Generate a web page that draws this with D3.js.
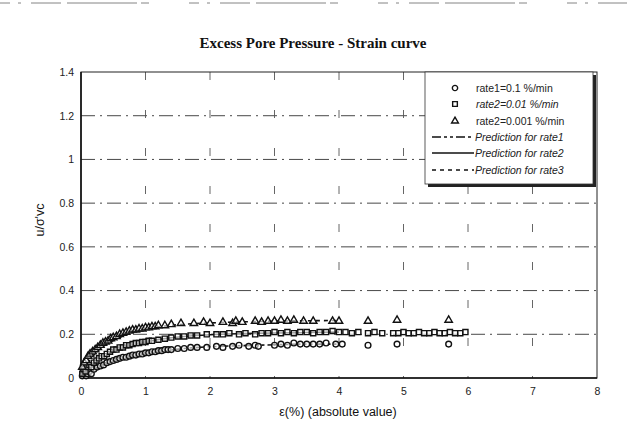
<!DOCTYPE html>
<html><head><meta charset="utf-8">
<script src="https://cdn.jsdelivr.net/npm/d3@7"></script>
<style>body{margin:0;background:#fff}svg{display:block}</style>
</head><body>
<svg id="c" width="627" height="428"></svg>
<script>
// ---- data ----
const xTicks = [0,1,2,3,4,5,6,7,8];
const yTicks = [0,0.2,0.4,0.6,0.8,1,1.2,1.4];
const yTickLabels = ["0","0.2","0.4","0.6","0.8","1","1.2","1.4"];

const rate1X = [0.02,0.05,0.08,0.1,0.13,0.16,0.2,0.25,0.3,0.35,0.4,0.45,0.5,0.55,0.6,0.65,0.7,0.75,0.8,0.85,0.9,0.95,1.0,1.05,1.1,1.15,1.2,1.25,1.3,1.35,1.4,1.5,1.6,1.7,1.8,1.95,2.1,2.2,2.35,2.45,2.6,2.7,2.75,3.0,3.1,3.2,3.3,3.4,3.5,3.6,3.7,3.8,3.95,4.05,4.45,4.9,5.7];
const rate1Y = [0.01,0.02,0.01,0.02,0.03,0.02,0.04,0.05,0.055,0.06,0.07,0.075,0.08,0.085,0.09,0.095,0.095,0.1,0.105,0.105,0.11,0.11,0.115,0.115,0.12,0.12,0.125,0.125,0.13,0.13,0.13,0.135,0.135,0.14,0.14,0.14,0.145,0.14,0.145,0.15,0.145,0.15,0.145,0.15,0.155,0.15,0.16,0.155,0.155,0.155,0.155,0.16,0.155,0.155,0.15,0.155,0.155];

const rate2X = [0.02,0.04,0.07,0.1,0.13,0.16,0.2,0.24,0.28,0.32,0.36,0.4,0.45,0.5,0.55,0.6,0.65,0.7,0.75,0.8,0.85,0.9,0.95,1.0,1.05,1.1,1.2,1.3,1.4,1.5,1.6,1.7,1.8,1.95,2.1,2.2,2.3,2.45,2.55,2.7,2.8,2.9,3.0,3.1,3.2,3.3,3.4,3.5,3.6,3.7,3.8,3.9,4.0,4.1,4.2,4.3,4.45,4.55,4.67,4.84,4.92,5.0,5.08,5.16,5.24,5.32,5.4,5.48,5.56,5.64,5.72,5.8,5.88,5.96];
const rate2Y = [0.02,0.04,0.03,0.05,0.06,0.05,0.07,0.08,0.09,0.1,0.1,0.11,0.12,0.13,0.13,0.14,0.14,0.15,0.15,0.155,0.16,0.16,0.165,0.165,0.17,0.17,0.175,0.18,0.185,0.19,0.19,0.195,0.195,0.2,0.2,0.2,0.205,0.2,0.205,0.2,0.205,0.205,0.21,0.205,0.21,0.205,0.21,0.21,0.205,0.21,0.21,0.215,0.21,0.21,0.205,0.21,0.205,0.21,0.205,0.205,0.205,0.21,0.205,0.205,0.21,0.205,0.205,0.21,0.205,0.205,0.21,0.205,0.205,0.21];

const rate3X = [0.02,0.05,0.08,0.11,0.14,0.18,0.22,0.26,0.3,0.34,0.38,0.42,0.46,0.5,0.55,0.6,0.65,0.7,0.75,0.8,0.85,0.9,0.95,1.0,1.05,1.1,1.15,1.2,1.3,1.4,1.55,1.75,1.9,2.0,2.2,2.35,2.4,2.5,2.7,2.8,2.9,3.0,3.1,3.2,3.3,3.45,3.6,3.9,4.0,4.45,4.9,5.7];
const rate3Y = [0.05,0.07,0.08,0.1,0.11,0.12,0.13,0.14,0.15,0.16,0.165,0.17,0.18,0.185,0.19,0.2,0.205,0.21,0.215,0.22,0.22,0.225,0.225,0.23,0.23,0.235,0.235,0.24,0.24,0.245,0.25,0.25,0.255,0.25,0.255,0.25,0.26,0.255,0.26,0.255,0.26,0.26,0.265,0.26,0.265,0.26,0.26,0.26,0.26,0.26,0.265,0.265];

const predX = [0,0.1,0.2,0.4,0.6,0.8,1.0,1.3,1.6,2.0,2.5,3.0,3.5,4.0];
const pred1Y = [0,0.02,0.035,0.065,0.085,0.1,0.112,0.125,0.135,0.143,0.148,0.152,0.155,0.155];
const pred2Y = [0,0.035,0.065,0.105,0.13,0.15,0.165,0.18,0.19,0.198,0.203,0.206,0.208,0.21];
const pred3Y = [0,0.065,0.105,0.155,0.185,0.21,0.225,0.238,0.246,0.252,0.257,0.26,0.262,0.263];

const legendLabels = ["rate1=0.1 %/min","rate2=0.01 %/min","rate2=0.001 %/min","Prediction for rate1","Prediction for rate2","Prediction for rate3"];

// ---- drawing ----
const svg = d3.select("#c");
const L=81, R=597, T=72, B=378;
const x = d3.scaleLinear().domain([0,8]).range([L,R]);
const y = d3.scaleLinear().domain([0,1.4]).range([B,T]);
const font = "'Liberation Sans', Arial, sans-serif";

// scan artefact at top
svg.append("line").attr("x1",0).attr("x2",627).attr("y1",3).attr("y2",3)
  .attr("stroke","#666").attr("stroke-width",0.8).attr("stroke-dasharray","10,8,3,10,30,6,70,4,8,40");

// title
svg.append("text").attr("x",313).attr("y",48).attr("text-anchor","middle")
  .attr("font-family","'Liberation Serif','Times New Roman',serif").attr("font-weight","bold")
  .attr("font-size",15).attr("fill","#111").text("Excess Pore Pressure - Strain curve");

// gridlines
const g = svg.append("g");
g.selectAll(".hg").data(yTicks.filter(v=>v>0 && v<1.4)).enter().append("line")
  .attr("x1",L).attr("x2",R).attr("y1",d=>y(d)).attr("y2",d=>y(d))
  .attr("stroke","#333").attr("stroke-width",0.9).attr("stroke-dasharray","14,5,2,5");
g.selectAll(".vg").data(xTicks.filter(v=>v>0 && v<8)).enter().append("line")
  .attr("y1",T).attr("y2",B).attr("x1",d=>x(d)).attr("x2",d=>x(d))
  .attr("stroke","#555").attr("stroke-width",0.9).attr("stroke-dasharray","8,30");

// frame
svg.append("rect").attr("x",L).attr("y",T).attr("width",R-L).attr("height",B-T)
  .attr("fill","none").attr("stroke","#222").attr("stroke-width",1);
svg.append("line").attr("x1",L).attr("x2",L).attr("y1",T).attr("y2",B).attr("stroke","#111").attr("stroke-width",1.6);
svg.append("line").attr("x1",L).attr("x2",R).attr("y1",B).attr("y2",B).attr("stroke","#111").attr("stroke-width",1.4);

// axes labels
const xAxis = d3.axisBottom(x).tickValues(xTicks).tickSize(0).tickPadding(10).tickFormat(d3.format("d"));
const ax = svg.append("g").attr("transform",`translate(0,${B})`).call(xAxis);
ax.select(".domain").remove();
ax.selectAll("text").attr("font-family",font).attr("font-size",10.5).attr("fill","#222");
const yAxis = d3.axisLeft(y).tickValues(yTicks).tickSize(0).tickPadding(7).tickFormat((d,i)=>yTickLabels[i]);
const ay = svg.append("g").attr("transform",`translate(${L},0)`).call(yAxis);
ay.select(".domain").remove();
ay.selectAll("text").attr("font-family",font).attr("font-size",10.5).attr("fill","#222");

svg.append("text").attr("x",338).attr("y",416).attr("text-anchor","middle")
  .attr("font-family",font).attr("font-size",12.5).attr("fill","#111").text("ε(%) (absolute value)");
svg.append("text").attr("transform","translate(44,220) rotate(-90)").attr("text-anchor","middle")
  .attr("font-family",font).attr("font-size",12.5).attr("fill","#111").text("u/σ'vc");

// prediction lines
const line = d3.line().x(d=>x(d[0])).y(d=>y(d[1])).curve(d3.curveMonotoneX);
const preds = [[pred1Y,"9,3,3,3,3,3"],[pred2Y,null],[pred3Y,"4,4"]];
preds.forEach(([ys,dash])=>{
  svg.append("path").datum(predX.map((v,i)=>[v,ys[i]])).attr("d",line)
    .attr("fill","none").attr("stroke","#111").attr("stroke-width",1.6)
    .attr("stroke-dasharray",dash);
});

// markers
const sym = (type,size)=>d3.symbol().type(type).size(size)();
function drawPts(xs,ys,type,size){
  svg.append("g").selectAll("path").data(xs.map((v,i)=>[v,ys[i]])).enter().append("path")
    .attr("transform",d=>`translate(${x(d[0])},${y(d[1])})`)
    .attr("d",sym(type,size)).attr("fill","#fff").attr("fill-opacity",0.6)
    .attr("stroke","#111").attr("stroke-width",1.4);
}
drawPts(rate1X,rate1Y,d3.symbolCircle,26);
drawPts(rate2X,rate2Y,d3.symbolSquare,26);
drawPts(rate3X,rate3Y,d3.symbolTriangle,24);

// legend
const lg = svg.append("g");
lg.append("rect").attr("x",428).attr("y",75).attr("width",168).attr("height",112).attr("fill","#222");
lg.append("rect").attr("x",425).attr("y",72).attr("width",168).attr("height",112)
  .attr("fill","#fff").attr("stroke","#333").attr("stroke-width",0.8);
const rowY = [88,104,121,137,153,170];
const legSyms = [[d3.symbolCircle,22],[d3.symbolSquare,22],[d3.symbolTriangle,20]];
legendLabels.forEach((t,i)=>{
  if(i<3){
    lg.append("path").attr("transform",`translate(455,${rowY[i]})`).attr("d",sym(legSyms[i][0],legSyms[i][1]))
      .attr("fill","none").attr("stroke","#111").attr("stroke-width",1.4);
  } else {
    lg.append("line").attr("x1",432).attr("x2",474).attr("y1",rowY[i]).attr("y2",rowY[i])
      .attr("stroke","#111").attr("stroke-width",1.6).attr("stroke-dasharray",preds[i-3][1]);
  }
  lg.append("text").attr("x", i<3?476:475).attr("y",rowY[i]+3.5)
    .attr("font-family",font).attr("font-size",10.5).attr("fill","#222")
    .attr("font-style", (i==1||i>=3)?"italic":"normal").text(t);
});
</script>
</body></html>
